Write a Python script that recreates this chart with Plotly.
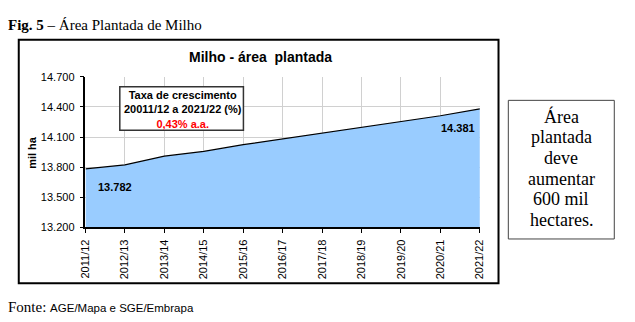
import plotly.graph_objects as go

# Planted maize area (thousand ha), 2011/12 through 2021/22
safras = ["2011/12", "2012/13", "2013/14", "2014/15", "2015/16", "2016/17",
          "2017/18", "2018/19", "2019/20", "2020/21", "2021/22"]
area_mil_ha = [13782, 13823, 13909, 13957, 14024, 14082, 14142, 14200,
               14254, 14312, 14381]
y_ticks = [13200, 13500, 13800, 14100, 14400, 14700]
nota_linhas = ["Área", "plantada", "deve", "aumentar", "600 mil", "hectares."]

W, H = 635, 322
SANS = "Liberation Sans, Arial, sans-serif"
SERIF = "Liberation Serif, Times New Roman, serif"


def px(x):
    return x / W


def py(y):
    return 1 - y / H


def fmt(v):
    return f"{v:,}".replace(",", ".")


fig = go.Figure()
fig.add_trace(go.Scatter(
    x=safras, y=area_mil_ha, mode="lines",
    line=dict(color="black", width=1.2),
    fill="tozeroy", fillcolor="#99CCFF",
    hoverinfo="skip", showlegend=False,
))

annotations = [
    # figure caption
    dict(x=px(0), y=py(20), xref="paper", yref="paper", xanchor="left", yanchor="middle",
         showarrow=False, text="<b>Fig. 5</b> – Área Plantada de Milho",
         font=dict(family=SERIF, size=15, color="black")),
    # chart title
    dict(x=px(259), y=py(53), xref="paper", yref="paper", xanchor="center", yanchor="middle",
         showarrow=False, text="<b>Milho - área \u00a0plantada</b>",
         font=dict(family=SANS, size=14, color="black")),
    # y axis title
    dict(x=px(27), y=py(152), xref="paper", yref="paper", xanchor="center", yanchor="middle",
         showarrow=False, text="<b>mil ha</b>", textangle=-90,
         font=dict(family=SANS, size=11, color="black")),
    # growth rate box
    dict(x=px(180), y=py(107), xref="paper", yref="paper", xanchor="center", yanchor="middle",
         showarrow=False,
         text="<b>Taxa de crescimento</b><br><b>20011/12 a 2021/22 (%)</b><br>"
              "<b><span style='color:#FF0000'>0,43% a.a.</span></b>",
         font=dict(family=SANS, size=11, color="black")),
    # first and last values
    dict(x=safras[0], y=area_mil_ha[0], xref="x", yref="y", xanchor="left", yanchor="middle",
         xshift=11, yshift=-18, showarrow=False, text=f"<b>{fmt(area_mil_ha[0])}</b>",
         font=dict(family=SANS, size=11, color="black")),
    dict(x=safras[-1], y=area_mil_ha[-1], xref="x", yref="y", xanchor="right", yanchor="middle",
         xshift=-3, yshift=-19, showarrow=False, text=f"<b>{fmt(area_mil_ha[-1])}</b>",
         font=dict(family=SANS, size=11, color="black")),
    # source
    dict(x=px(0), y=py(313), xref="paper", yref="paper", xanchor="left", yanchor="middle",
         showarrow=False,
         text="Fonte: <span style='font-family:Liberation Sans, Arial, sans-serif;font-size:11.5px'>"
              "AGE/Mapa e SGE/Embrapa</span>",
         font=dict(family=SERIF, size=15, color="black")),
]

# side note, one line at a time for tighter line spacing
for i, linha in enumerate(nota_linhas):
    annotations.append(dict(
        x=px(566), y=py(115 + i * 21.4), xref="paper", yref="paper",
        xanchor="center", yanchor="middle", showarrow=False, text=linha,
        font=dict(family=SERIF, size=18, color="black"),
    ))

shapes = [
    # chart frame
    dict(type="rect", xref="paper", yref="paper", x0=px(13), x1=px(502), y0=py(288), y1=py(35),
         line=dict(color="black", width=2), fillcolor="rgba(0,0,0,0)", layer="below"),
    # growth rate box
    dict(type="rect", xref="paper", yref="paper", x0=px(116), x1=px(242), y0=py(129), y1=py(84),
         line=dict(color="#333333", width=1.5), fillcolor="white", layer="above"),
    # side note box
    dict(type="rect", xref="paper", yref="paper", x0=px(512), x1=px(620), y0=py(242), y1=py(98),
         line=dict(color="#444444", width=1), fillcolor="rgba(0,0,0,0)"),
]

fig.update_layout(
    width=W, height=H,
    margin=dict(l=0, r=0, t=0, b=0),
    paper_bgcolor="white", plot_bgcolor="white",
    annotations=annotations, shapes=shapes,
    xaxis=dict(
        domain=[px(81), px(483)],
        type="category", range=[0, len(safras) - 1],
        showgrid=True, gridcolor="#D0D0D0", gridwidth=1,
        showline=True, linecolor="black", linewidth=1.5,
        ticks="outside", ticklen=4, tickcolor="black",
        tickangle=-90, tickfont=dict(family=SANS, size=11, color="black"),
        ticklabelstandoff=2,
        fixedrange=True,
    ),
    yaxis=dict(
        domain=[py(230), py(73.5)],
        range=[y_ticks[0], y_ticks[-1]],
        tickvals=y_ticks, ticktext=[fmt(v) for v in y_ticks],
        showgrid=True, gridcolor="#D0D0D0", gridwidth=1,
        showline=True, linecolor="black", linewidth=1.5,
        ticks="outside", ticklen=4, tickcolor="black",
        tickfont=dict(family=SANS, size=11, color="black"),
        ticklabelstandoff=3,
        zeroline=False, fixedrange=True,
    ),
)

fig.write_html("out.html")
